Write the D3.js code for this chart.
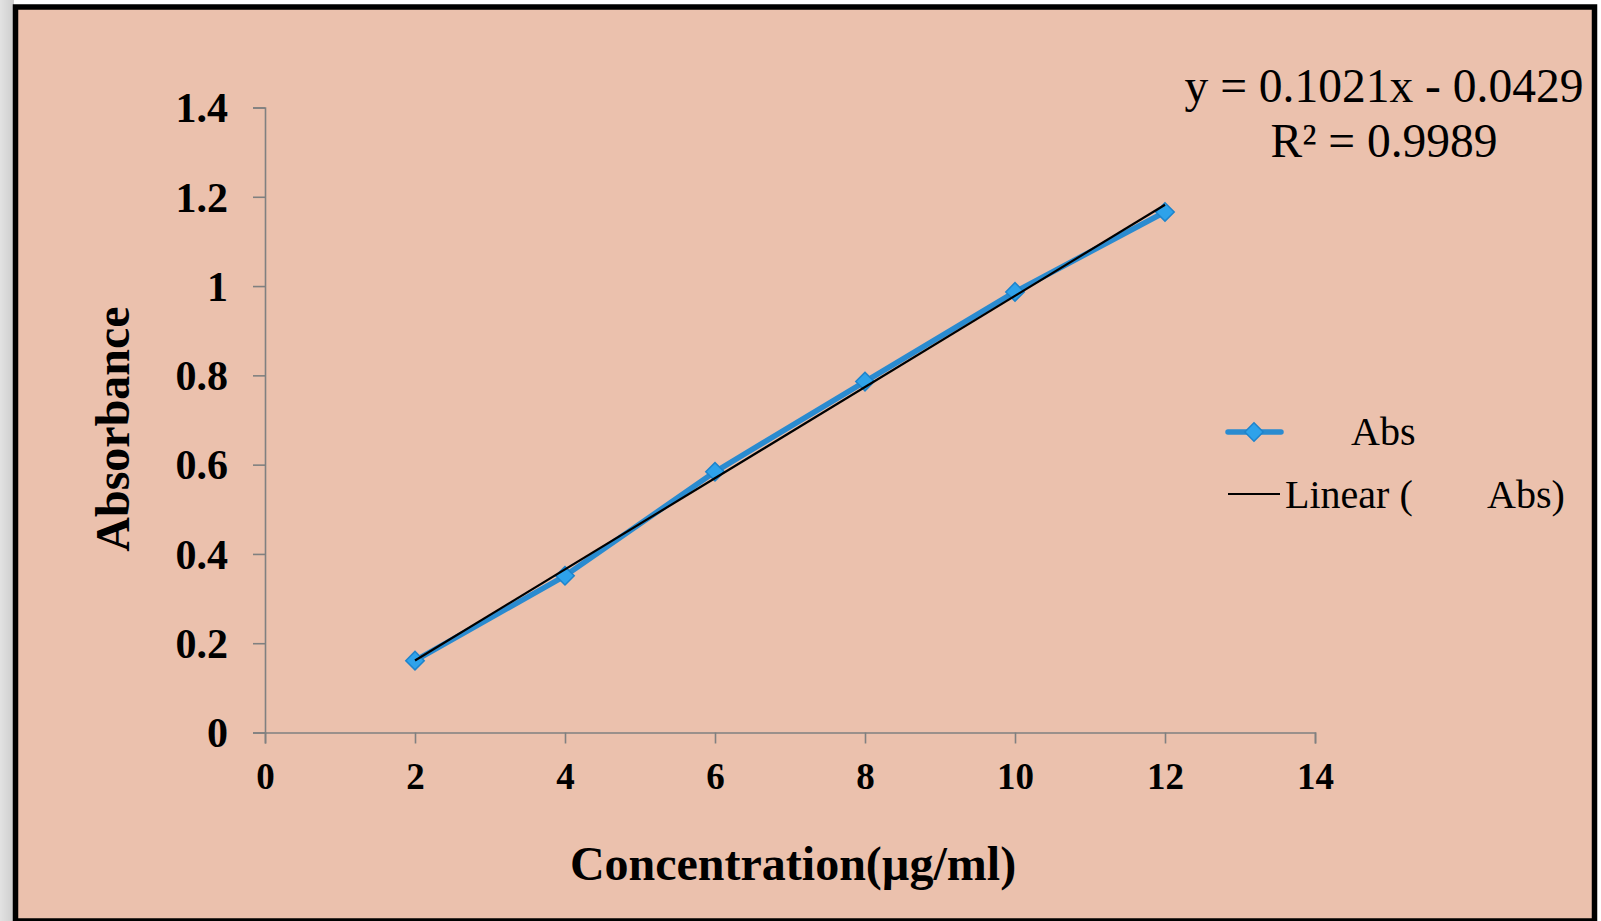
<!DOCTYPE html>
<html>
<head>
<meta charset="utf-8">
<script src="https://cdn.jsdelivr.net/npm/d3@7/dist/d3.min.js"></script>
<style>
  html, body { margin: 0; padding: 0; background: #ffffff; }
  svg { display: block; }
</style>
</head>
<body>
<svg id="chart" width="1601" height="921"></svg>
<script>
// ---- data ----
const concentrations = [2, 4, 6, 8, 10, 12];
const absorbance = [0.161, 0.351, 0.584, 0.786, 0.987, 1.166];
const xTicks = [0, 2, 4, 6, 8, 10, 12, 14];
const yTicks = [0, 0.2, 0.4, 0.6, 0.8, 1.0, 1.2, 1.4];
const trendSlope = 0.1021;
const trendIntercept = -0.0429;
const equationLines = ["y = 0.1021x - 0.0429", "R² = 0.9989"];
const seriesName = "Abs";
const xTitle = "Concentration(µg/ml)";
const yTitle = "Absorbance";

const svg = d3.select("#chart");
const serif = "'Liberation Serif', 'Times New Roman', serif";

// page backdrop
const defs = svg.append("defs");
const grad = defs.append("linearGradient").attr("id", "sideGrad").attr("x1", 0).attr("x2", 1);
grad.append("stop").attr("offset", "0").attr("stop-color", "#e2e2e2");
grad.append("stop").attr("offset", "1").attr("stop-color", "#cdcdcd");
svg.append("rect").attr("x", 0).attr("y", 0).attr("width", 14).attr("height", 921).attr("fill", "url(#sideGrad)");

// chart frame
svg.append("rect")
  .attr("x", 15.5).attr("y", 7).attr("width", 1579).attr("height", 914)
  .attr("fill", "#EBC1AD").attr("stroke", "#000").attr("stroke-width", 5.5);

// scales
const x = d3.scaleLinear().domain([0, 14]).range([265, 1315]);
const y = d3.scaleLinear().domain([0, 1.4]).range([732.5, 107.5]);

// axes
const xAxis = svg.append("g").attr("transform", `translate(0,${y(0)})`)
  .call(d3.axisBottom(x).tickValues(xTicks).tickSizeOuter(0).tickSize(11).tickPadding(19).tickFormat(d3.format("d")));
const yAxis = svg.append("g").attr("transform", `translate(${x(0)},0)`)
  .call(d3.axisLeft(y).tickValues(yTicks).tickSizeOuter(0).tickSize(12).tickPadding(25).tickFormat(d => d === 0 ? "0" : d3.format("~g")(d)));

[xAxis, yAxis].forEach(g => {
  g.select(".domain").attr("stroke", "#808080").attr("stroke-width", 1.6);
  g.selectAll(".tick line").attr("stroke", "#808080").attr("stroke-width", 1.6);
  g.selectAll("text").attr("fill", "#000").attr("font-family", serif).attr("font-weight", "bold");
});
xAxis.selectAll("text").attr("font-size", 37).attr("dy", "0.71em");
yAxis.selectAll("text").attr("font-size", 42).attr("dy", "0.34em");

// axis titles
svg.append("text").attr("x", 793).attr("y", 880)
  .attr("text-anchor", "middle").attr("font-family", serif).attr("font-weight", "bold")
  .attr("font-size", 48).attr("fill", "#000").text(xTitle);
svg.append("text").attr("transform", "translate(129,429) rotate(-90)")
  .attr("text-anchor", "middle").attr("font-family", serif).attr("font-weight", "bold")
  .attr("font-size", 48).attr("fill", "#000").text(yTitle);

// data series
const pts = concentrations.map((c, i) => [c, absorbance[i]]);
const lineGen = d3.line().x(d => x(d[0])).y(d => y(d[1]));
svg.append("path").datum(pts).attr("d", lineGen)
  .attr("fill", "none").attr("stroke", "#2A8BD0").attr("stroke-width", 5.5).attr("stroke-linejoin", "round");

const diamond = d3.symbol().type(d3.symbolSquare).size(170);
svg.selectAll(".pt").data(pts).enter().append("path")
  .attr("transform", d => `translate(${x(d[0])},${y(d[1])}) rotate(45)`)
  .attr("d", diamond).attr("fill", "#2EA2EA").attr("stroke", "#1E84CC").attr("stroke-width", 1.5);

// trendline
const xMin = d3.min(concentrations), xMax = d3.max(concentrations);
const trend = [[xMin, trendSlope * xMin + trendIntercept], [xMax, trendSlope * xMax + trendIntercept]];
svg.append("path").datum(trend).attr("d", lineGen)
  .attr("fill", "none").attr("stroke", "#000").attr("stroke-width", 2.2);

// equation
svg.append("text").attr("x", 1384).attr("y", 102).attr("text-anchor", "middle")
  .attr("font-family", serif).attr("font-size", 47.5).attr("fill", "#000").text(equationLines[0]);
svg.append("text").attr("x", 1384).attr("y", 157).attr("text-anchor", "middle")
  .attr("font-family", serif).attr("font-size", 47.5).attr("fill", "#000").text(equationLines[1]);

// legend
const lg = svg.append("g");
lg.append("line").attr("x1", 1228).attr("x2", 1281).attr("y1", 432).attr("y2", 432)
  .attr("stroke", "#2A8BD0").attr("stroke-width", 5.5).attr("stroke-linecap", "round");
lg.append("path").attr("transform", "translate(1254,432) rotate(45)").attr("d", diamond)
  .attr("fill", "#2EA2EA").attr("stroke", "#1E84CC").attr("stroke-width", 1.5);
lg.append("text").attr("x", 1351).attr("y", 445).attr("font-family", serif).attr("font-size", 40)
  .attr("fill", "#000").text(seriesName);
lg.append("line").attr("x1", 1228).attr("x2", 1280).attr("y1", 494).attr("y2", 494)
  .attr("stroke", "#000").attr("stroke-width", 2);
lg.append("text").attr("x", 1285).attr("y", 508).attr("font-family", serif).attr("font-size", 40)
  .attr("fill", "#000").text("Linear (");
lg.append("text").attr("x", 1487).attr("y", 508).attr("font-family", serif).attr("font-size", 40)
  .attr("fill", "#000").text(seriesName + ")");
</script>
</body>
</html>
